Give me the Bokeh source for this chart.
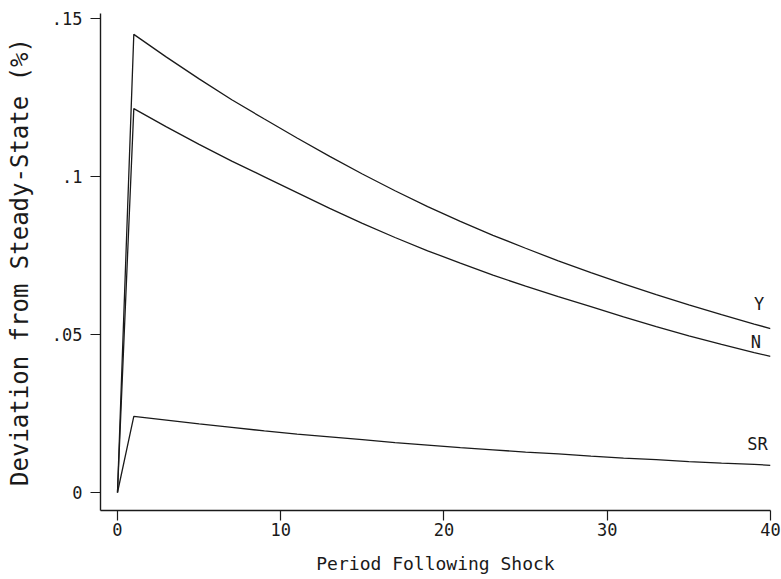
from bokeh.plotting import figure
from bokeh.models import Range1d, FixedTicker, ColumnDataSource
from bokeh.core.properties import value
from bokeh.embed import file_html
from bokeh.resources import INLINE

# ---- data ----
period = [0, 1, 3, 5, 7, 9, 11, 13, 15, 17, 19, 21, 23, 25, 27, 29, 31, 33, 35, 37, 39, 40]
y_output = [0.0, 0.1450, 0.1378, 0.1309, 0.1243, 0.1182, 0.1122, 0.1064, 0.1008, 0.0955,
            0.0905, 0.0858, 0.0814, 0.0773, 0.0733, 0.0696, 0.0660, 0.0626, 0.0594, 0.0563,
            0.0533, 0.0519]
n_hours = [0.0, 0.1215, 0.1157, 0.1102, 0.1049, 0.0999, 0.0949, 0.0899, 0.0852, 0.0807,
           0.0765, 0.0726, 0.0688, 0.0653, 0.0620, 0.0588, 0.0556, 0.0525, 0.0496, 0.0469,
           0.0443, 0.0431]
sr_rate = [0.0, 0.0241, 0.0229, 0.0217, 0.0206, 0.0195, 0.0185, 0.0176, 0.0167, 0.0158,
           0.0150, 0.0142, 0.0135, 0.0128, 0.0122, 0.0115, 0.0109, 0.0104, 0.0098, 0.0093,
           0.0089, 0.0086]
series_names = ["Y", "N", "SR"]
x_ticks = [0, 10, 20, 30, 40]
y_ticks = [0, 0.05, 0.1, 0.15]
y_tick_labels = ["0", ".05", ".1", ".15"]
x_title = "Period Following Shock"
y_title = "Deviation from Steady-State (%)"

# label anchor positions (data coords)
label_x = [39.3, 39.1, 39.2]
label_y = [0.0595, 0.0476, 0.0155]

FONT = "DejaVu Sans Mono"
INK = "#1a1a1a"

p = figure(width=781, height=579, output_backend="svg", toolbar_location=None,
           x_range=Range1d(-1.04, 40.0), y_range=Range1d(-0.0057, 0.1516),
           min_border_left=100, min_border_right=11, min_border_top=13, min_border_bottom=69)
p.outline_line_color = None
p.xgrid.visible = False
p.ygrid.visible = False
p.background_fill_color = "white"
p.border_fill_color = "white"

src = ColumnDataSource(dict(t=period, y=y_output, n=n_hours, sr=sr_rate))
for col in ["y", "n", "sr"]:
    p.line("t", col, source=src, line_color=INK, line_width=1.3)

p.text(x=label_x, y=label_y, text=series_names, text_font=value(FONT),
       text_font_size="17px", text_align="center", text_baseline="middle",
       text_color=INK)

for ax in (p.xaxis[0], p.yaxis[0]):
    ax.axis_line_color = INK
    ax.axis_line_width = 1.4
    ax.major_tick_line_color = INK
    ax.major_tick_line_width = 1.2
    ax.major_tick_out = 10
    ax.major_tick_in = 0
    ax.minor_tick_out = 0
    ax.minor_tick_in = 0
    ax.major_label_text_font = FONT
    ax.major_label_text_font_size = "17px"
    ax.major_label_text_color = INK
    ax.axis_label_text_font = FONT
    ax.axis_label_text_font_style = "normal"
    ax.axis_label_text_color = INK

p.xaxis.ticker = FixedTicker(ticks=x_ticks)
p.yaxis.ticker = FixedTicker(ticks=y_ticks)
p.yaxis.major_label_overrides = {t: l for t, l in zip(y_ticks, y_tick_labels)}
p.yaxis.major_label_orientation = "horizontal"
p.xaxis.major_label_standoff = 2
p.yaxis.major_label_standoff = 8

p.xaxis.axis_label = x_title
p.yaxis.axis_label = y_title
p.xaxis.axis_label_text_font_size = "18px"
p.yaxis.axis_label_text_font_size = "24px"
p.xaxis.axis_label_standoff = 14
p.yaxis.axis_label_standoff = 15

open("out.html", "w").write(file_html(p, INLINE))
